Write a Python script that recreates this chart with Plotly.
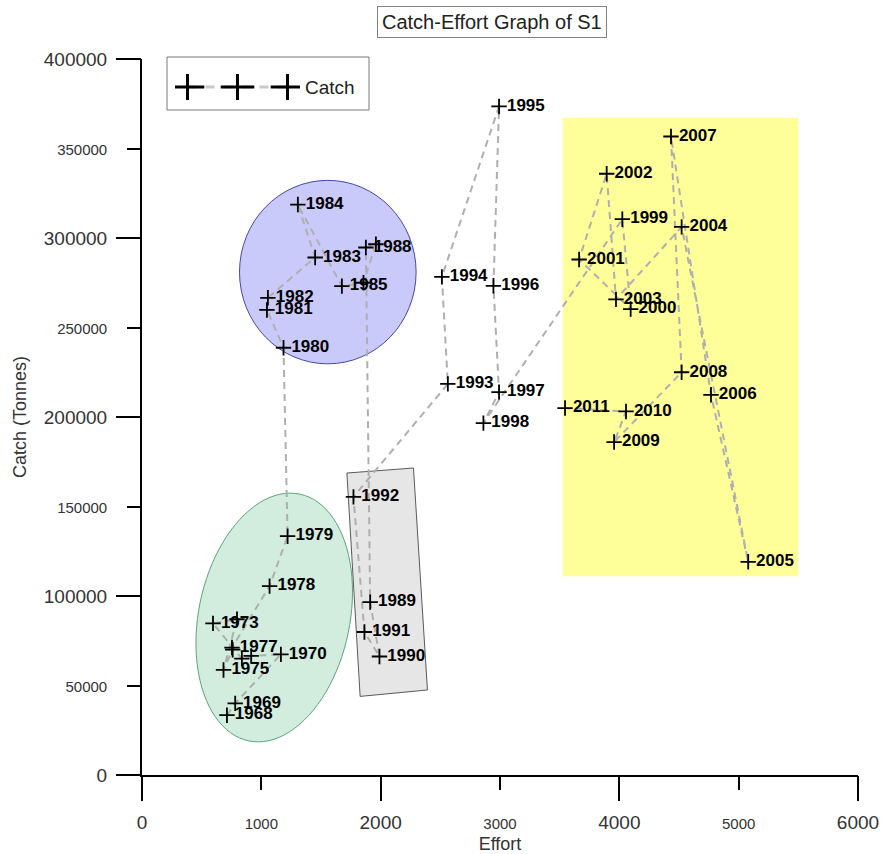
import numpy as np
import plotly.graph_objects as go

# ---------------- data ----------------
years = list(range(1968, 2012))
effort = [712, 781, 1164, 915, 837, 595, 796, 683, 760, 754, 1069, 1220,
          1186, 1047, 1055, 1451, 1306, 1675, 1856, 1960, 1876, 1912,
          1990, 1864, 1772, 2563, 2513, 2992, 2945, 2992, 2861, 4025,
          4095, 3663, 3894, 3972, 4522, 5080, 4768, 4433, 4522, 3956, 4056, 3545]
catch = [33400, 40000, 67400, 66500, 65000, 84700, 87000, 58700, 70000, 71200, 105500, 133400,
         238700, 259800, 266600, 289100, 318700, 273100, 275000, 296500, 294700, 96600,
         66200, 79900, 155400, 218500, 278300, 373500, 273300, 213900, 196600, 310500,
         260300, 288000, 335900, 265700, 306200, 119100, 212400, 356700, 225000, 186000, 203100, 205000]
hidden_labels = [1971, 1972, 1974, 1976, 1986, 1987]

x_ticks = [0, 1000, 2000, 3000, 4000, 5000, 6000]
x_major = [0, 2000, 4000, 6000]
y_ticks = [0, 50000, 100000, 150000, 200000, 250000, 300000, 350000, 400000]
y_major = [0, 100000, 200000, 300000, 400000]
legend_sample = [0, 1, 2]

# ---------------- layout constants ----------------
W, H = 882, 854
ML, MR, MT, MB = 142, 24, 59, 79
XR = [0, 6000]
YR = [0, 400000]
PW, PH = W - ML - MR, H - MT - MB
sx = PW / (XR[1] - XR[0])   # px per effort unit
sy = PH / (YR[1] - YR[0])   # px per tonne

FONT = "Liberation Sans, Arial, sans-serif"
MAJ_SIZE, MIN_SIZE = 19, 15


def tick_text(v, majors):
    s = str(v)
    if v in majors:
        return s
    return f"<span style='font-size:{MIN_SIZE}px'>{s}</span>"


labels = ["" if y in hidden_labels else str(y) for y in years]

fig = go.Figure()

# main series
fig.add_trace(go.Scatter(
    x=effort, y=catch, mode="lines+markers+text",
    text=labels, textposition="middle right",
    textfont=dict(family=FONT, size=17, color="black", weight=700),
    line=dict(color="rgb(175,175,175)", width=2, dash="7px,5px"),
    marker=dict(symbol="cross-thin", size=11, color="black",
                line=dict(color="black", width=1.8)),
    name="Catch", showlegend=False, cliponaxis=False,
))

# overlay axes for the long (major) tick marks
fig.add_trace(go.Scatter(x=[None], y=[None], xaxis="x2", yaxis="y2",
                         showlegend=False, hoverinfo="skip"))

# custom legend sample
fig.add_trace(go.Scatter(
    x=legend_sample, y=[0] * len(legend_sample), xaxis="x3", yaxis="y3",
    mode="lines+markers",
    line=dict(color="rgb(200,200,200)", width=3, dash="9px,9px"),
    marker=dict(symbol="cross-thin", size=24, color="black",
                line=dict(color="black", width=3)),
    showlegend=False, hoverinfo="skip",
))

# ---------------- shapes ----------------
shapes = []
# yellow rectangle (1999-2011 group)
shapes.append(dict(type="rect", xref="x", yref="y", x0=3526, x1=5500, y0=111000, y1=367200,
                   fillcolor="rgb(255,255,153)", line=dict(width=0), layer="below"))
# blue circle (1980-1988 group)
shapes.append(dict(type="circle", xref="x", yref="y", x0=817, x1=2297, y0=229700, y1=332200,
                   fillcolor="rgb(202,202,250)", line=dict(color="rgb(70,70,170)", width=1),
                   layer="below"))
# tilted green ellipse (1968-1979 group)
cx, cy = 1108, 88000           # centre, data units
a_px, b_px, phi = 126, 75.6, np.deg2rad(11.6)
t = np.linspace(0, 2 * np.pi, 97)
dx = a_px * np.sin(phi) * np.cos(t) + b_px * np.cos(phi) * np.sin(t)
dy = -a_px * np.cos(phi) * np.cos(t) + b_px * np.sin(phi) * np.sin(t)
ex = cx + dx / sx
ey = cy - dy / sy
path = "M " + " L ".join(f"{u:.1f},{v:.1f}" for u, v in zip(ex, ey)) + " Z"
shapes.append(dict(type="path", xref="x", yref="y", path=path,
                   fillcolor="rgb(210,236,222)", line=dict(color="rgb(90,165,120)", width=1),
                   layer="below"))
# tilted grey rectangle (1989-1992 group)
rx = [1717, 2275, 2392, 1828]
ry = [168700, 171500, 47500, 43900]
rpath = "M " + " L ".join(f"{u},{v}" for u, v in zip(rx, ry)) + " Z"
shapes.append(dict(type="path", xref="x", yref="y", path=rpath,
                   fillcolor="rgb(230,230,230)", line=dict(color="rgb(90,90,90)", width=1),
                   layer="below"))
# legend border
shapes.append(dict(type="rect", xref="paper", yref="paper",
                   x0=(167 - ML) / PW, x1=(369 - ML) / PW,
                   y0=(H - MB - 110) / PH, y1=(H - MB - 57) / PH,
                   line=dict(color="rgb(120,120,120)", width=1), fillcolor="rgba(0,0,0,0)"))

annotations = [
    dict(text="Catch-Effort Graph of S1", xref="paper", yref="paper",
         x=(492 - ML) / PW, y=(H - MB - 22) / PH, xanchor="center", yanchor="middle",
         showarrow=False, font=dict(family=FONT, size=20, color="#222"),
         bordercolor="rgb(130,130,130)", borderwidth=1, borderpad=4, bgcolor="white"),
    dict(text="Catch", xref="paper", yref="paper",
         x=(303 - ML) / PW, y=(H - MB - 87) / PH, xanchor="left", yanchor="middle",
         showarrow=False, font=dict(family=FONT, size=19, color="#222")),
]

axis_common = dict(showgrid=False, zeroline=False, mirror=False, automargin=False)

fig.update_layout(
    width=W, height=H, autosize=False,
    margin=dict(l=ML, r=MR, t=MT, b=MB, pad=0, autoexpand=False),
    paper_bgcolor="white", plot_bgcolor="white",
    font=dict(family=FONT, color="#333"),
    shapes=shapes, annotations=annotations,
    xaxis=dict(range=XR, tickvals=x_ticks, ticktext=[tick_text(v, x_major) for v in x_ticks],
               ticks="outside", ticklen=13, tickwidth=2, tickcolor="black",
               showline=True, linecolor="black", linewidth=2,
               tickfont=dict(family=FONT, size=MAJ_SIZE, color="#333"),
               ticklabelstandoff=16,
               title=dict(text="Effort", font=dict(family=FONT, size=18, color="#333"), standoff=9),
               **axis_common),
    yaxis=dict(range=YR, tickvals=y_ticks, ticktext=[tick_text(v, y_major) for v in y_ticks],
               ticks="outside", ticklen=13, tickwidth=2, tickcolor="black",
               showline=True, linecolor="black", linewidth=2,
               tickfont=dict(family=FONT, size=MAJ_SIZE, color="#333"),
               ticklabelstandoff=16,
               title=dict(text="Catch (Tonnes)", font=dict(family=FONT, size=18, color="#333"), standoff=12),
               **axis_common),
    xaxis2=dict(range=XR, overlaying="x", anchor="y2", side="bottom", tickvals=x_major,
                ticks="outside", ticklen=25, tickwidth=2, tickcolor="black",
                showticklabels=False, showline=False, **axis_common),
    yaxis2=dict(range=YR, overlaying="y", anchor="x2", side="left", tickvals=y_major,
                ticks="outside", ticklen=25, tickwidth=2, tickcolor="black",
                showticklabels=False, showline=False, **axis_common),
    xaxis3=dict(domain=[(175 - ML) / PW, (300 - ML) / PW], range=[-0.25, 2.25],
                anchor="y3", visible=False, fixedrange=True),
    yaxis3=dict(domain=[(H - MB - 100) / PH, (H - MB - 74) / PH], range=[-1, 1],
                anchor="x3", visible=False, fixedrange=True),
    showlegend=False,
)

fig.write_html("out.html",
               config={"displayModeBar": False, "responsive": False},
               post_script="document.body.style.margin='0px';")
